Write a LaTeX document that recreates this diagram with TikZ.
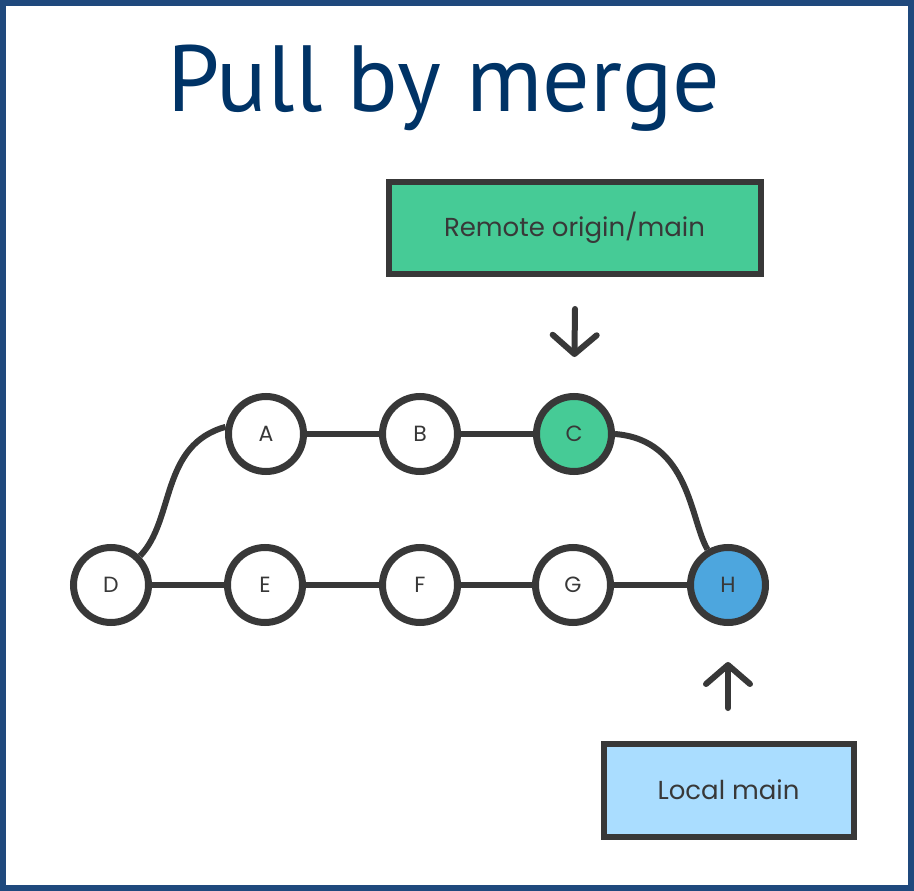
\documentclass[tikz,border=0pt]{standalone}
\usepackage{fontspec}
\setmainfont{Poppins}
\newfontfamily\titlefont{PT Sans}
\usetikzlibrary{arrows.meta}
\definecolor{frameblue}{HTML}{1F497D}
\definecolor{titleblue}{HTML}{003366}
\definecolor{ink}{HTML}{383838}
\definecolor{cgreen}{HTML}{46CB96}
\definecolor{hblue}{HTML}{4DA6DE}
\definecolor{lblue}{HTML}{AADDFF}
\tikzset{
  commit/.style={circle, draw=ink, line width=7pt, fill=white, minimum size=75pt, inner sep=0pt, text=ink, font=\fontsize{22}{22}\selectfont},
  edge/.style={draw=ink, line width=6pt},
  refbox/.style={draw=ink, line width=6pt, text=ink, font=\fontsize{26}{26}\selectfont, inner sep=0pt},
  ptr/.style={draw=ink, line width=6pt, line cap=round, -{Straight Barb[length=19pt, width=44pt, line join=round, line cap=round]}},
}
\begin{document}
\begin{tikzpicture}[x=1pt, y=-1pt]
\useasboundingbox (0,0) rectangle (914,891);
\draw[frameblue, line width=6pt, fill=white] (3,3) rectangle (911,888);
\node[anchor=base, text=titleblue, font=\titlefont\fontsize{94}{94}\selectfont] (title) at (444,112) {Pull by merge};

\node[refbox, fill=cgreen, minimum width=372pt, minimum height=92pt] (remote) at (574.5,227.5) {Remote origin/main};
\node[refbox, fill=lblue, minimum width=250pt, minimum height=93pt] (local) at (728.5,790) {Local main};

\node[commit] (D) at (111,585) {D};
\node[commit] (E) at (265,585) {E};
\node[commit] (F) at (420,585) {F};
\node[commit] (G) at (573,585) {G};
\node[commit, fill=hblue] (H) at (728,585) {H};
\node[commit] (A) at (266,434) {A};
\node[commit] (B) at (420,434) {B};
\node[commit, fill=cgreen] (C) at (574,434) {C};

\draw[edge] (D) -- (E);
\draw[edge] (E) -- (F);
\draw[edge] (F) -- (G);
\draw[edge] (G) -- (H);
\draw[edge] (A) -- (B);
\draw[edge] (B) -- (C);
\draw[edge] (D.45) .. controls (175,520) and (160,445) .. (A.170);
\draw[edge] (C.east) .. controls (690,440) and (690,520) .. (H.120);

\coordinate (rtail) at (575,309);
\coordinate (ltail) at (728,708);
\draw[ptr, shorten >=36pt] (rtail) -- (C.north);
\draw[ptr, shorten >=36pt] (ltail) -- (H.south);
\end{tikzpicture}
\end{document}
